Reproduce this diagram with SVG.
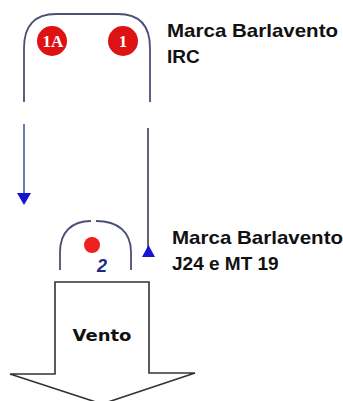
<svg xmlns="http://www.w3.org/2000/svg" width="343" height="401" viewBox="0 0 343 401">
<style>
.path{fill:none;stroke:#4b5075;stroke-width:1.8}
.lbl{font-family:"Liberation Sans",Arial,sans-serif;font-weight:bold;font-size:19px;fill:#111}
.mk{font-family:"Liberation Serif","Times New Roman",serif;font-weight:bold;font-size:17px;fill:#fff}
.buoy{fill:#de1212}
</style>
<rect width="343" height="401" fill="#fff"/>
<g id="course-irc">
<path class="path" d="M24,102 V48 Q24,14 56,14 H118 Q150,14 150,48 V102"/>
</g>
<g id="mark-1A">
<circle class="buoy" cx="52" cy="41" r="15"/>
<text class="mk" x="53" y="47" text-anchor="middle">1A</text>
</g>
<g id="mark-1">
<circle class="buoy" cx="123" cy="41" r="15"/>
<text class="mk" x="123" y="47" text-anchor="middle">1</text>
</g>
<g id="label-irc">
<text class="lbl" x="167" y="37" textLength="171" lengthAdjust="spacingAndGlyphs">Marca Barlavento</text>
<text class="lbl" x="167" y="63">IRC</text>
</g>
<g id="course-j24">
<path class="path" d="M60,270 V252 C60,232 72,221 91,221"/>
<path class="path" d="M96,221 C118,221 131,232 131,252 V270"/>
</g>
<g id="mark-2">
<circle cx="92" cy="245" r="8" fill="#ee2020"/>
<text x="102" y="272" text-anchor="middle" style="font-family:'Liberation Sans',Arial,sans-serif;font-weight:bold;font-style:italic;font-size:18px;fill:#1a2a85">2</text>
</g>
<g id="label-j24">
<text class="lbl" x="172" y="244" textLength="171" lengthAdjust="spacingAndGlyphs">Marca Barlavento</text>
<text class="lbl" x="172" y="270">J24 e MT 19</text>
</g>
<g id="connectors">
<line x1="24" y1="124" x2="24" y2="195" stroke="#6f7aa8" stroke-width="2"/>
<polygon points="17,193 31,193 24,205" fill="#1414d2"/>
<line x1="148" y1="128" x2="148" y2="250" stroke="#4b5075" stroke-width="1.8"/>
<polygon points="142,257 155,257 148.5,245" fill="#1414d2"/>
</g>
<g id="wind">
<polygon points="55,282 149,282 149,373 195,373 102,404 10,374 55,374" fill="#fff" stroke="#333" stroke-width="1.6" stroke-linejoin="miter"/>
<text x="102" y="341" text-anchor="middle" textLength="59" lengthAdjust="spacingAndGlyphs" style="font-family:'DejaVu Sans',Verdana,sans-serif;font-weight:bold;font-size:15px;fill:#111">Vento</text>
</g>
</svg>
